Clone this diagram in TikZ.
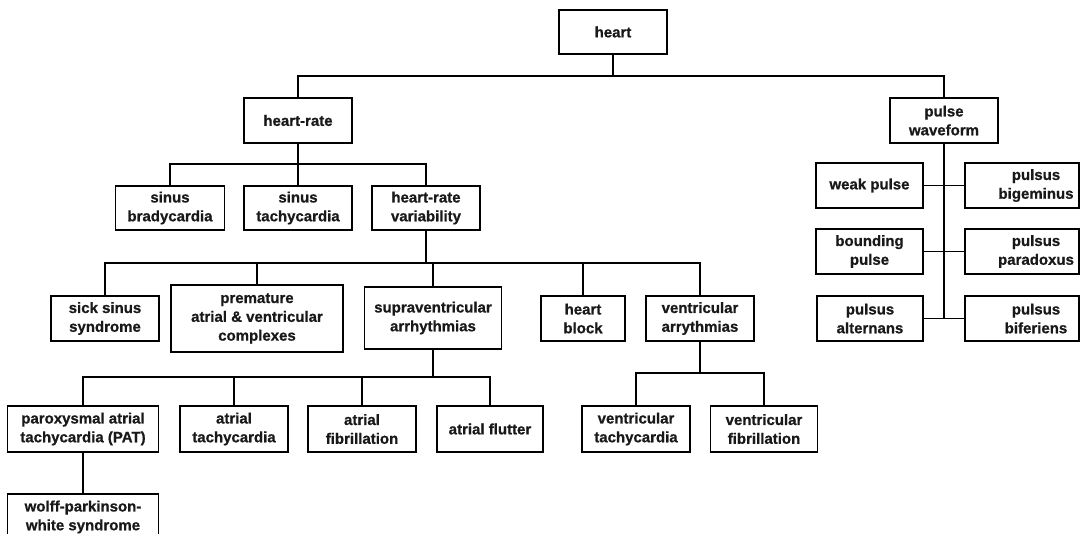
\documentclass[tikz,border=0pt]{standalone}
\usepackage{fontspec}
\setmainfont{Liberation Sans}[BoldFeatures={FakeBold=0.8}]
\begin{document}
\begin{tikzpicture}[x=1pt,y=-1pt,
  box/.style={draw=black, line width=1.7pt, inner sep=0pt, minimum width=108, minimum height=45,
    align=center, text=black!90, font=\fontsize{15}{18.8}\selectfont\bfseries},
  lbl/.style={inner sep=0pt, align=center, text=black!90, font=\fontsize{15}{18.8}\selectfont\bfseries},
  conn/.style={line width=1.6pt, draw=black}]
\useasboundingbox (0,0) rectangle (1082,534);
\clip (0,0) rectangle (1082,534);
% level 0
\node[box, minimum height=44] (heart) at (613,32) {heart};
% level 1
\node[box] (heartrate) at (298,120.5) {heart-rate};
\node[box] (pulsewave) at (944,120.5) {pulse\\waveform};
% level 2
\node[box, minimum width=109, minimum height=44] (sinbrad) at (170,208) {sinus\\bradycardia};
\node[box, minimum height=44] (sintach) at (298,208) {sinus\\tachycardia};
\node[box, minimum height=44] (hrv) at (426,208) {heart-rate\\variability};
% level 3
\node[box] (sick) at (105,318.5) {sick sinus\\syndrome};
\node[box, minimum width=172, minimum height=67] (prem) at (257,318.5) {premature\\atrial \& ventricular\\complexes};
\node[box, minimum width=137, minimum height=62] (supra) at (433,318) {supraventricular\\arrhythmias};
\node[box, minimum width=84] (hblock) at (583,318.5) {heart\\block};
\node[box] (ventarr) at (700,318.5) {ventricular\\arrythmias};
% level 4
\node[box, minimum width=151, minimum height=46] (pat) at (83,429) {paroxysmal atrial\\tachycardia (PAT)};
\node[box, minimum height=46] (atach) at (234,429) {atrial\\tachycardia};
\node[box, minimum height=46] (afib) at (362,429) {atrial\\fibrillation};
\node[box, minimum width=106, minimum height=46] (aflut) at (490,429) {atrial flutter};
\node[box, minimum height=46] (vtach) at (636,429) {ventricular\\tachycardia};
\node[box, minimum width=107, minimum height=46] (vfib) at (764,429) {ventricular\\fibrillation};
% level 5
\node[box, minimum width=151, minimum height=46] (wolff) at (83,517) {wolff-parkinson-\\white syndrome};
% pulse waveform children
\node[box, minimum width=107] (weak) at (869.5,185.5) {weak pulse};
\node[box, minimum width=107] (bound) at (869.5,251.5) {bounding\\pulse};
\node[box, minimum width=106] (altern) at (870,318.5) {pulsus\\alternans};
\node[box, minimum width=114] (bigem) at (1022,185.5) {};
\node[box, minimum width=114] (parad) at (1022,251.5) {};
\node[box, minimum width=114] (bifer) at (1022,318.5) {};
\node[lbl] (bigemt) at (1036,185.5) {pulsus\\bigeminus};
\node[lbl] (paradt) at (1036,251.5) {pulsus\\paradoxus};
\node[lbl] (bifert) at (1036,318.5) {pulsus\\biferiens};
% junctions
\coordinate (j0) at (613,76);
\coordinate (j1) at (298,164);
\coordinate (j2) at (426,263);
\coordinate (j3) at (433,377);
\coordinate (j4) at (700,373);
\coordinate (jp) at (944,318.5);
% connectors
\draw[conn] (heart.south) -- (j0);
\draw[conn] (heartrate.north) |- (j0) -| (pulsewave.north);
\draw[conn] (heartrate.south) -- (j1);
\draw[conn] (sinbrad.north) |- (j1) -| (hrv.north);
\draw[conn] (sintach.north) -- (j1);
\draw[conn] (hrv.south) -- (j2);
\draw[conn] (sick.north) |- (j2) -| (ventarr.north);
\draw[conn] (prem.north) -- (prem.north |- j2);
\draw[conn] (supra.north) -- (supra.north |- j2);
\draw[conn] (hblock.north) -- (hblock.north |- j2);
\draw[conn] (supra.south) -- (j3);
\draw[conn] (pat.north) |- (j3) -| (aflut.north);
\draw[conn] (atach.north) -- (atach.north |- j3);
\draw[conn] (afib.north) -- (afib.north |- j3);
\draw[conn] (pat.south) -- (wolff.north);
\draw[conn] (ventarr.south) -- (j4);
\draw[conn] (vtach.north) |- (j4) -| (vfib.north);
\draw[conn] (pulsewave.south) -- (jp);
\draw[conn] (weak.east) -- (bigem.west);
\draw[conn] (bound.east) -- (parad.west);
\draw[conn] (altern.east) -- (bifer.west);
\end{tikzpicture}
\end{document}
